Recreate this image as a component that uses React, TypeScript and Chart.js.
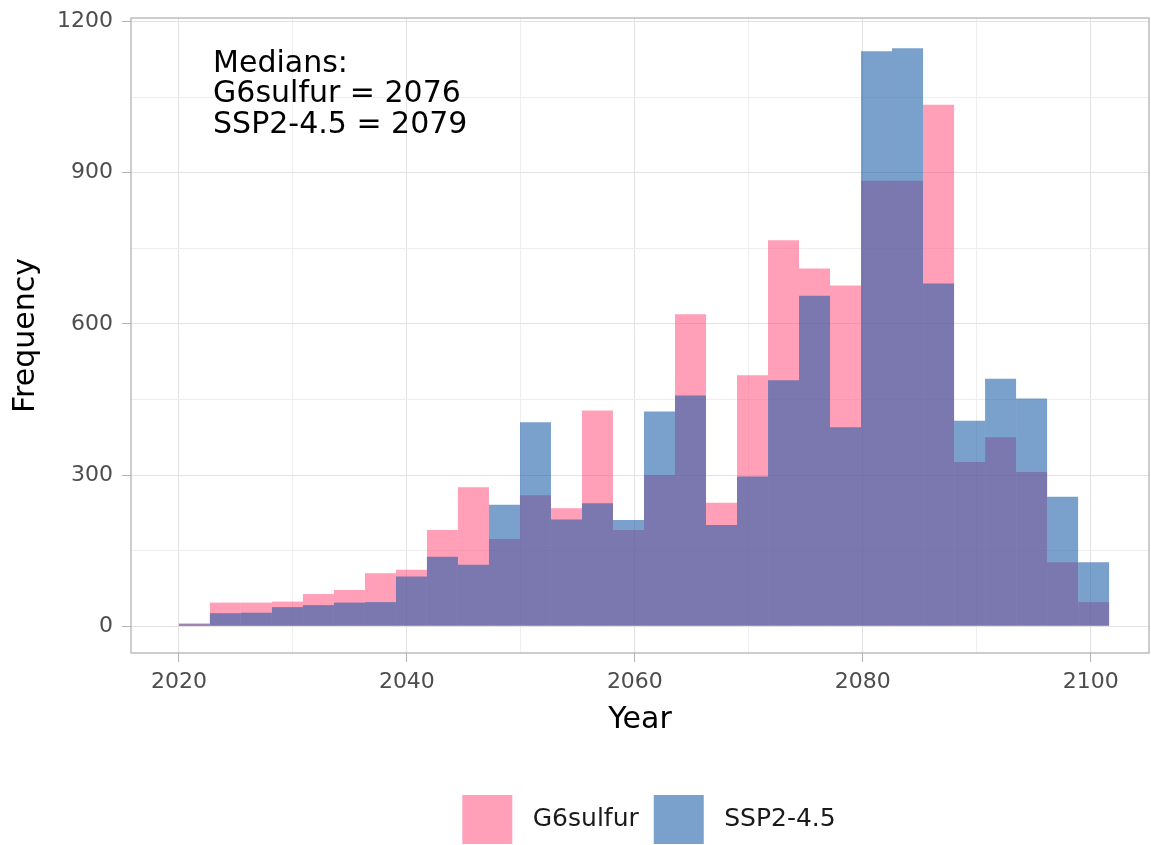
import React, { useEffect, useRef } from 'react';
import { Chart, registerables } from 'chart.js';

Chart.register(...registerables);

// Histogram bin centres (years); bins are ~2.72 years wide
const BIN_CENTERS = [
  2021.36, 2024.08, 2026.8, 2029.52, 2032.24, 2034.96, 2037.68, 2040.4, 2043.12, 2045.84,
  2048.56, 2051.28, 2054.0, 2056.72, 2059.44, 2062.16, 2064.88, 2067.6, 2070.32, 2073.04,
  2075.76, 2078.48, 2081.2, 2083.92, 2086.64, 2089.36, 2092.08, 2094.8, 2097.52, 2100.24,
];

const G6SULFUR = [
  6, 47, 47, 49, 64, 72, 105, 112, 191, 276,
  173, 260, 234, 428, 191, 300, 619, 245, 498, 766,
  710, 676, 884, 884, 1035, 326, 375, 306, 127, 48,
];

const SSP245 = [
  4, 26, 27, 38, 42, 47, 48, 99, 138, 122,
  241, 405, 212, 244, 211, 426, 458, 201, 297, 488,
  656, 395, 1141, 1147, 680, 408, 491, 452, 257, 127,
];

const X_TICKS = [2020, 2030, 2040, 2050, 2060, 2070, 2080, 2090, 2100];
const X_LABELS = [2020, 2040, 2060, 2080, 2100];
const Y_TICKS = [0, 150, 300, 450, 600, 750, 900, 1050, 1200];
const Y_LABELS = [0, 300, 600, 900, 1200];

const MEDIAN_LINES = ['Medians:', 'G6sulfur = 2076', 'SSP2-4.5 = 2079'];
const ANNOT_X = 2023;
const ANNOT_Y = 1100;

const X_MIN = 2015.8;
const X_MAX = 2105.1;
const Y_MIN = -53;
const Y_MAX = 1207;

const FONT = '"DejaVu Sans", "Liberation Sans", sans-serif';

const overlayPlugin = {
  id: 'overlay',
  afterLayout(chart: any) {
    if (chart.legend) {
      chart.legend.left += 9;
      chart.legend.right += 9;
    }
  },
  afterDatasetsDraw(chart: any) {
    const { ctx, chartArea: a, scales } = chart;
    ctx.save();
    ctx.strokeStyle = '#B3B3B3';
    ctx.lineWidth = 1.3;
    ctx.strokeRect(a.left, a.top, a.right - a.left, a.bottom - a.top);
    ctx.fillStyle = '#000000';
    ctx.font = `30px ${FONT}`;
    ctx.textAlign = 'left';
    ctx.textBaseline = 'alphabetic';
    const x = scales.x.getPixelForValue(ANNOT_X);
    const y0 = scales.y.getPixelForValue(ANNOT_Y);
    MEDIAN_LINES.forEach((t, i) => ctx.fillText(t, x, y0 + i * 30.5));
    ctx.restore();
  },
};

export default function App() {
  const ref = useRef<HTMLCanvasElement | null>(null);

  useEffect(() => {
    if (!ref.current) return;
    const chart = new Chart(ref.current, {
      type: 'bar',
      data: {
        datasets: [
          {
            label: 'SSP2-4.5',
            data: BIN_CENTERS.map((x, i) => ({ x, y: SSP245[i] })),
            backgroundColor: 'rgba(25, 92, 167, 0.58)',
            borderWidth: 0,
            inflateAmount: 0,
            grouped: false,
            barPercentage: 1,
            categoryPercentage: 1,
          } as any,
          {
            label: 'G6sulfur',
            data: BIN_CENTERS.map((x, i) => ({ x, y: G6SULFUR[i] })),
            backgroundColor: 'rgba(255, 91, 133, 0.58)',
            borderWidth: 0,
            inflateAmount: 0,
            grouped: false,
            barPercentage: 1,
            categoryPercentage: 1,
          } as any,
        ],
      },
      options: {
        responsive: false,
        animation: false,
        layout: { padding: { top: 18, left: 0, right: 2, bottom: -9 } },
        plugins: {
          tooltip: { enabled: false },
          legend: {
            position: 'bottom',
            fullSize: false,
            reverse: true,
            labels: {
              boxWidth: 50,
              boxHeight: 49,
              padding: 15,
              color: '#1a1a1a',
              font: { family: FONT, size: 25 },
              generateLabels: (ch: any) =>
                Chart.defaults.plugins.legend.labels
                  .generateLabels(ch)
                  .map((l: any) => ({ ...l, text: ' ' + l.text })),
            },
          },
        },
        scales: {
          x: {
            type: 'linear',
            min: X_MIN,
            max: X_MAX,
            offset: false,
            afterBuildTicks: (scale: any) => {
              scale.ticks = X_TICKS.map((v) => ({ value: v }));
            },
            afterFit: (scale: any) => {
              scale.height = 127;
              scale.paddingLeft = 0;
              scale.paddingRight = 0;
            },
            grid: {
              offset: false,
              color: (c: any) => (X_LABELS.includes(c.tick?.value) ? '#E2E2E2' : '#EEEEEE'),
              lineWidth: 1,
              tickLength: 9,
              tickColor: (c: any) => (X_LABELS.includes(c.tick?.value) ? '#B3B3B3' : 'rgba(0,0,0,0)'),
            },
            border: { display: false },
            ticks: {
              autoSkip: false,
              maxRotation: 0,
              padding: 7,
              color: '#4D4D4D',
              font: { family: FONT, size: 22 },
              callback: (v: any) => (X_LABELS.includes(Number(v)) ? String(v) : ''),
            },
            title: {
              display: true,
              text: 'Year',
              color: '#000000',
              font: { family: FONT, size: 30 },
              padding: { top: 0, bottom: 42 },
            },
          } as any,
          y: {
            type: 'linear',
            min: Y_MIN,
            max: Y_MAX,
            afterBuildTicks: (scale: any) => {
              scale.ticks = Y_TICKS.map((v) => ({ value: v }));
            },
            afterFit: (scale: any) => {
              scale.width = 131;
              scale.paddingTop = 0;
              scale.paddingBottom = 0;
            },
            grid: {
              color: (c: any) => (Y_LABELS.includes(c.tick?.value) ? '#E2E2E2' : '#EEEEEE'),
              lineWidth: 1,
              tickLength: 9,
              tickColor: (c: any) => (Y_LABELS.includes(c.tick?.value) ? '#B3B3B3' : 'rgba(0,0,0,0)'),
            },
            border: { display: false },
            ticks: {
              autoSkip: false,
              padding: 9,
              color: '#4D4D4D',
              font: { family: FONT, size: 22 },
              callback: (v: any) => (Y_LABELS.includes(Number(v)) ? String(v) : ''),
            },
            title: {
              display: true,
              text: 'Frequency',
              color: '#000000',
              font: { family: FONT, size: 30 },
              padding: { top: 8, bottom: 0 },
            },
          } as any,
        },
      },
      plugins: [overlayPlugin],
    });
    return () => chart.destroy();
  }, []);

  return (
    <div style={{ position: 'fixed', left: 0, top: 0, width: 1151, height: 845, background: '#ffffff' }}>
      <canvas ref={ref} width={1151} height={845} style={{ display: 'block' }} />
    </div>
  );
}
